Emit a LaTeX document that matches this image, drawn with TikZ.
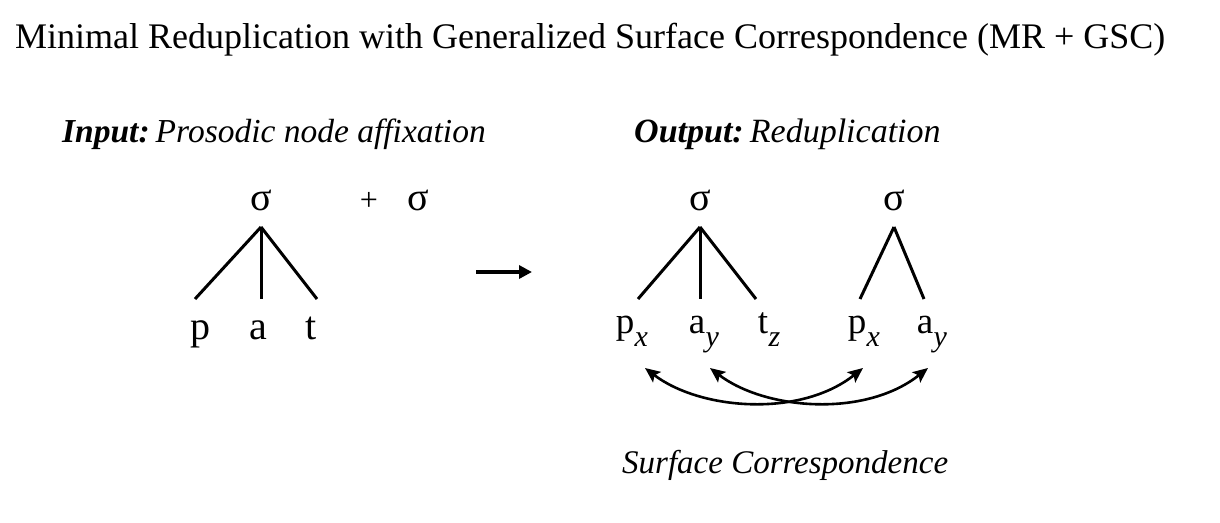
\documentclass[tikz,border=0pt]{standalone}
\usepackage{fontspec}
\setmainfont{Liberation Serif}
\usetikzlibrary{arrows.meta}
\begin{document}
\begin{tikzpicture}[x=1pt,y=-1pt,
  title/.style={anchor=base west, inner sep=0pt, font=\fontsize{36}{40}\selectfont},
  head/.style={anchor=base west, inner sep=0pt, font=\fontsize{33.5}{40}\selectfont\itshape},
  sig/.style={anchor=base, inner sep=0pt, text depth=0pt, outer ysep=17pt, font=\fontsize{40}{44}\selectfont},
  lseg/.style={anchor=base, inner sep=0pt, text height=18pt, text depth=0pt, outer ysep=22pt, font=\fontsize{40}{44}\selectfont},
  rseg/.style={anchor=base, inner sep=0pt, text height=17pt, text depth=0pt, outer ysep=17pt, font=\fontsize{37}{44}\selectfont},
  sub/.style={anchor=base west, inner sep=0pt, font=\fontsize{30}{36}\selectfont\itshape},
  branch/.style={line width=3pt},
  corr/.style={line width=2.6pt, {Stealth[length=15pt,width=13pt,inset=3pt]}-{Stealth[length=15pt,width=13pt,inset=3pt]}}
]
\useasboundingbox (0,0) rectangle (1220,522);

\node[title] (title) at (15,48) {Minimal Reduplication with Generalized Surface Correspondence (MR + GSC)};
\node[head] (inhead) at (62,142) {\textbf{Input:}\hspace{0.18em}Prosodic node affixation};
\node[head, font=\fontsize{34}{40}\selectfont\itshape] (outhead) at (634,142) {\textbf{Output:}\hspace{0.18em}Reduplication};
\node[head, font=\fontsize{33}{40}\selectfont\itshape] (sc) at (622,473) {Surface Correspondence};

% input tree
\node[sig] (s0) at (261,210) {σ};
\node[lseg] (p0) at (200,339) {p};
\node[lseg] (a0) at (258,339) {a};
\node[lseg] (t0) at (311,339) {t};
\draw[branch] (s0.south) -- ([xshift=-5pt]p0.north);
\draw[branch] (s0.south) -- (a0.north -| s0.south);
\draw[branch] (s0.south) -- ([xshift=6pt]t0.north);
\node[anchor=base, inner sep=0pt, font=\fontsize{32}{34}\selectfont] (plus) at (369,210) {+};
\node[sig] (saff) at (418,210) {σ};

% main arrow
\coordinate (ar0) at (476,272);
\coordinate (ar1) at (532,272);
\draw[line width=4pt, -{Triangle[length=13pt,width=13pt]}] (ar0) -- (ar1);

% output tree 1
\node[sig] (s1) at (700,210) {σ};
\node[rseg] (p1) at (625,333) {p};
\node[sub] (x1) at ([yshift=-13pt]p1.base east) {x};
\node[rseg] (a1) at (697,333) {a};
\node[sub] (y1) at ([yshift=-13pt]a1.base east) {y};
\node[rseg] (t1) at (763,333) {t};
\node[sub] (z1) at ([yshift=-13pt]t1.base east) {z};
\draw[branch] (s1.south) -- ([xshift=13pt]p1.north);
\draw[branch] (s1.south) -- (a1.north -| s1.south);
\draw[branch] (s1.south) -- ([xshift=-7pt]t1.north);

% output tree 2
\node[sig] (s2) at (894,210) {σ};
\node[rseg] (p2) at (857,333) {p};
\node[sub] (x2) at ([yshift=-13pt]p2.base east) {x};
\node[rseg] (a2) at (925,333) {a};
\node[sub] (y2) at ([yshift=-13pt]a2.base east) {y};
\draw[branch] (s2.south) -- ([xshift=3pt]p2.north);
\draw[branch] (s2.south) -- ([xshift=-1pt]a2.north);

% correspondence arrows
\coordinate (c1a) at (645,368);
\coordinate (c1b) at (863,368);
\coordinate (c2a) at (710,368);
\coordinate (c2b) at (928,368);
\draw[corr] (c1a) .. controls (700,410) and (800,418) .. (c1b);
\draw[corr] (c2a) .. controls (765,410) and (865,418) .. (c2b);
\end{tikzpicture}
\end{document}
